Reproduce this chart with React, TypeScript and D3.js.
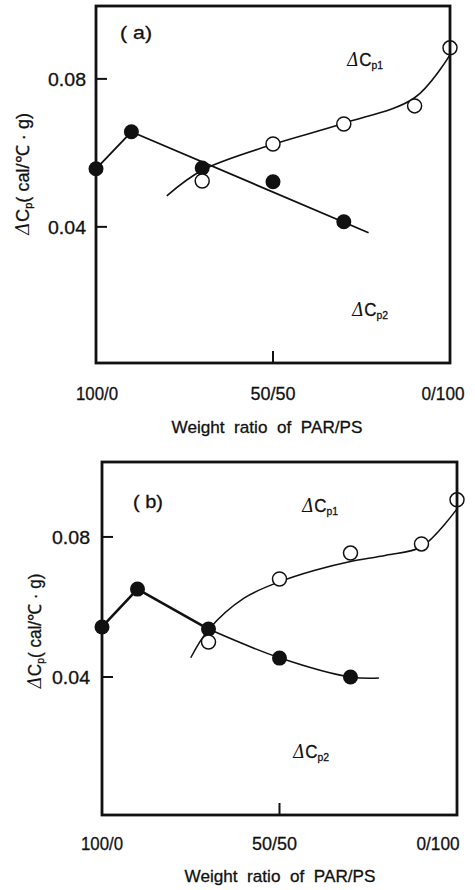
import React from 'react';
import * as d3 from 'd3';

// x axis: PS content (%) ; labels shown as PAR/PS ratio
const ratioTicks = [0, 50, 100];
const ratioLabels = ['100/0', '50/50', '0/100'];
const cpTicks = [0.04, 0.08];

// panel (a) measured points
const psFilledA = [0, 10, 30, 50, 70];
const cp2A = [0.0557, 0.0657, 0.0559, 0.0522, 0.0414];
const psOpenA = [30, 50, 70, 90, 100];
const cp1A = [0.0524, 0.0624, 0.0678, 0.0727, 0.0884];
// panel (a) drawn curves
const fit2PsA = [0, 10, 77];
const fit2A = [0.0557, 0.0657, 0.0384];
const fit1PsA = [20, 30, 50, 70, 90, 100];
const fit1A = [0.0484, 0.0553, 0.0623, 0.068, 0.0749, 0.0865];

// panel (b) measured points
const psFilledB = [0, 10, 30, 50, 70];
const cp2B = [0.0543, 0.0651, 0.0537, 0.0454, 0.04];
const psOpenB = [30, 50, 70, 90, 100];
const cp1B = [0.05, 0.068, 0.0754, 0.078, 0.0906];
// panel (b) drawn curves
const fit2PsB1 = [0, 10, 30];
const fit2B1 = [0.0543, 0.0651, 0.0537];
const fit2PsB2 = [30, 50, 70, 78];
const fit2B2 = [0.0537, 0.0455, 0.04, 0.0397];
const fit1PsB = [25, 30, 40, 50, 60, 70, 80, 90, 100];
const fit1B = [0.0455, 0.0535, 0.0625, 0.0672, 0.0705, 0.073, 0.0748, 0.0772, 0.088];

const FONT = '"Liberation Sans", Arial, sans-serif';
const INK = '#111';

type Curve = { xs: number[]; ys: number[]; width: number; smooth: boolean };

type PanelProps = {
  left: number; right: number; top: number; bottom: number;
  yDomain: [number, number];
  tag: string; tagX: number; tagY: number; tagW: number;
  cp1X: number; cp1Y: number; cp2X: number; cp2Y: number;
  labelBase: number; labelShift: number[]; tickRight: number;
  titleX: number; titleY: number;
  yLabelX: number; yLabelY: number; yLabelW: number;
  filledX: number[]; filledY: number[];
  openX: number[]; openY: number[];
  curves: Curve[];
};

const labelW = [42, 45, 43];

const Delta = ({ x, y, sub }: { x: number; y: number; sub: string }) => (
  <text x={x} y={y} fontSize={18} textLength={36} lengthAdjust="spacingAndGlyphs" stroke={INK} strokeWidth={0.3}>
    <tspan fontFamily='"DejaVu Serif", serif' fontStyle="italic" strokeWidth={0}>Δ</tspan>
    <tspan>C</tspan>
    <tspan fontSize={11} dy={3}>{sub}</tspan>
  </text>
);

const Panel = (p: PanelProps) => {
  const x = d3.scaleLinear().domain([0, 100]).range([p.left, p.right]);
  const y = d3.scaleLinear().domain(p.yDomain).range([p.bottom, p.top]);
  const lineFor = (c: Curve) =>
    d3.line<number>()
      .x((_, i) => x(c.xs[i]))
      .y(d => y(d))
      .curve(c.smooth ? d3.curveCatmullRom.alpha(0.5) : d3.curveLinear)(c.ys) || '';

  return (
    <g fontFamily={FONT} fill={INK}>
      {p.curves.map((c, i) => (
        <path key={i} d={lineFor(c)} fill="none" stroke={INK} strokeWidth={c.width} />
      ))}
      {p.filledX.map((v, i) => (
        <circle key={'f' + i} cx={x(v)} cy={y(p.filledY[i])} r={7.5} fill={INK} />
      ))}
      {p.openX.map((v, i) => (
        <circle key={'o' + i} cx={x(v)} cy={y(p.openY[i])} r={7} fill="#fff" stroke={INK} strokeWidth={1.5} />
      ))}
      <rect x={p.left} y={p.top} width={p.right - p.left} height={p.bottom - p.top}
        fill="none" stroke={INK} strokeWidth={2.8} />
      {cpTicks.map(t => (
        <g key={t}>
          <line x1={p.left} x2={p.left + 11} y1={y(t)} y2={y(t)} stroke={INK} strokeWidth={2} />
          <text x={p.tickRight} y={y(t)} dy="0.36em" textAnchor="end" fontSize={19}
            textLength={38} lengthAdjust="spacingAndGlyphs" stroke={INK} strokeWidth={0.3}>{t.toFixed(2)}</text>
        </g>
      ))}
      <line x1={x(50)} x2={x(50)} y1={p.bottom} y2={p.bottom - 12} stroke={INK} strokeWidth={2} />
      {ratioTicks.map((t, i) => (
        <text key={t} x={x(t) + p.labelShift[i]} y={p.labelBase} textAnchor="middle" fontSize={19}
          textLength={labelW[i]} lengthAdjust="spacingAndGlyphs" stroke={INK} strokeWidth={0.3}>{ratioLabels[i]}</text>
      ))}
      <text x={p.titleX} y={p.titleY} textAnchor="middle" fontSize={17} style={{ whiteSpace: 'pre' }}
        textLength={191} lengthAdjust="spacingAndGlyphs" stroke={INK} strokeWidth={0.3}>{'Weight  ratio  of  PAR/PS'}</text>
      <text x={p.tagX} y={p.tagY} fontSize={18} textLength={p.tagW} lengthAdjust="spacingAndGlyphs"
        style={{ whiteSpace: 'pre' }} stroke={INK} strokeWidth={0.3}>{'( ' + p.tag + ')'}</text>
      <Delta x={p.cp1X} y={p.cp1Y} sub="p1" />
      <Delta x={p.cp2X} y={p.cp2Y} sub="p2" />
      <text transform={`translate(${p.yLabelX},${p.yLabelY}) rotate(-90)`} textAnchor="middle" fontSize={18}
        textLength={p.yLabelW} lengthAdjust="spacingAndGlyphs" stroke={INK} strokeWidth={0.3}>
        <tspan fontFamily='"DejaVu Serif", serif' fontStyle="italic" strokeWidth={0}>Δ</tspan>
        <tspan>C</tspan>
        <tspan fontSize={11} dy={3}>p</tspan>
        <tspan dy={-3}>( cal/℃ · g)</tspan>
      </text>
    </g>
  );
};

export default function App() {
  return (
    <svg width={475} height={890} style={{ position: 'absolute', left: 0, top: 0, background: '#fff' }}>
      <Panel
        left={96} right={450} top={6} bottom={363}
        yDomain={[0.0032, 0.0997]}
        tag="a" tagX={120} tagY={39} tagW={32}
        cp1X={347} cp1Y={66} cp2X={352} cp2Y={316}
        labelBase={400} labelShift={[1, 0, -7]} tickRight={86}
        titleX={267} titleY={433}
        yLabelX={29} yLabelY={174} yLabelW={122}
        filledX={psFilledA} filledY={cp2A}
        openX={psOpenA} openY={cp1A}
        curves={[
          { xs: fit2PsA, ys: fit2A, width: 1.8, smooth: false },
          { xs: fit1PsA, ys: fit1A, width: 1.6, smooth: true },
        ]}
      />
      <Panel
        left={102} right={457} top={462} bottom={815}
        yDomain={[0.0006, 0.1014]}
        tag="b" tagX={133} tagY={508} tagW={30}
        cp1X={302} cp1Y={512} cp2X={293} cp2Y={758}
        labelBase={850} labelShift={[0, -5, -19]} tickRight={90}
        titleX={280} titleY={882}
        yLabelX={41} yLabelY={631} yLabelW={115}
        filledX={psFilledB} filledY={cp2B}
        openX={psOpenB} openY={cp1B}
        curves={[
          { xs: fit2PsB1, ys: fit2B1, width: 2.6, smooth: false },
          { xs: fit2PsB2, ys: fit2B2, width: 1.6, smooth: true },
          { xs: fit1PsB, ys: fit1B, width: 1.5, smooth: true },
        ]}
      />
    </svg>
  );
}
